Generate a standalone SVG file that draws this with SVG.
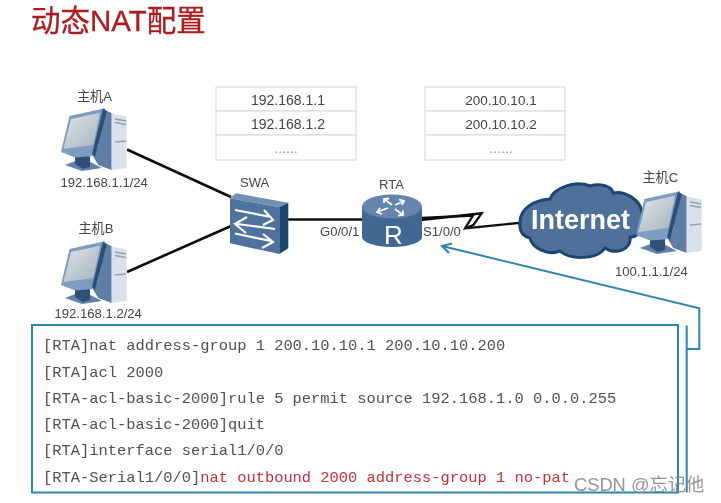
<svg xmlns="http://www.w3.org/2000/svg" width="721" height="503" viewBox="0 0 721 503">
<style>
text{font-family:"Liberation Sans","Noto Sans CJK SC",sans-serif;fill:#444}
.lbl{font-size:13.100px}
.cell{font-size:14px;text-anchor:middle}
.cell2{font-size:13.500px;text-anchor:middle}
.dots{font-size:14px;text-anchor:middle;fill:#999}
.code{font-family:"Liberation Mono","Noto Sans CJK SC",monospace;font-size:15.420px;fill:#505050}
.red{fill:#c4303c}
.tbl{fill:#fff;stroke:#dcdcdc;stroke-width:1.200}
.link{fill:none;stroke:#111;stroke-width:2.600}
.blue{fill:none;stroke:#2f86ad;stroke-width:2}
.wa{fill:none;stroke:#fff;stroke-width:2.200}
</style>
<defs>
<filter id="soft" x="-2%" y="-2%" width="104%" height="104%"><feGaussianBlur stdDeviation="0.500"/></filter>
<linearGradient id="scr" x1="0" y1="0" x2="1" y2="1"><stop offset="0" stop-color="#dfe5ea"/><stop offset="1" stop-color="#a6b2bc"/></linearGradient>
<g id="host">
<polygon points="76.700,40.700 81.700,43.300 81.700,100 68.300,95 63.300,86.700" fill="#5f7ea6"/>
<polygon points="81.700,43.300 96.700,46.700 96.700,98 81.700,100" fill="#d9e2ec"/>
<path d="M85,49L96,51M85,52.500L96,54.500M85,72L96,71" stroke="#8ea2b6" stroke-width="1.300" fill="none"/>
<polygon points="35,95 53,88 72,98 52,101" fill="#6282a8"/>
<polygon points="45,84 60,80 60,97 53,99 45,94" fill="#2f5078"/>
<polygon points="39.500,46 75,38.300 68.300,78 64,86 45,87.500 31,82" fill="#7c9cc2"/>
<polygon points="41,49 70,42.700 63.300,75 33.500,79" fill="url(#scr)"/>
<polygon points="73,38.500 77,41 65,87 62,84" fill="#2f5078"/>
</g>
</defs>
<rect width="721" height="503" fill="#fff"/>
<g filter="url(#soft)">
<g id="title"><text x="31" y="31" style="font-size:29.500px;fill:#ac1c20;stroke:#ac1c20;stroke-width:.3">动态NAT配置</text></g>

<g id="connectors">
<path class="link" d="M127,149.500L231,197"/>
<path class="link" d="M127,272L231,226"/>
<path class="link" d="M287,219.500H364"/>
<path d="M421,218L473,215.500L465,228.300L522,222.700" fill="none" stroke="#111" stroke-width="2.300"/>
<path d="M421,220L481.700,213.300L473.300,225L465,228.300" fill="none" stroke="#111" stroke-width="2.300"/>
<path class="blue" d="M686.700,349H699.300V308.300L442,246"/>
<path class="blue" d="M452,243.500L442,246L449,253"/>
</g>

<g id="table-private">
<rect class="tbl" x="216" y="87" width="140" height="24"/><rect class="tbl" x="216" y="111" width="140" height="24"/><rect class="tbl" x="216" y="135" width="140" height="25"/>
<text class="cell" x="288" y="104.500">192.168.1.1</text><text class="cell" x="288" y="129">192.168.1.2</text><text class="dots" x="286" y="153">......</text>
</g>
<g id="table-public">
<rect class="tbl" x="425" y="87" width="140" height="24"/><rect class="tbl" x="425" y="111" width="140" height="24"/><rect class="tbl" x="425" y="135" width="140" height="25"/>
<text class="cell2" x="501" y="104.500">200.10.10.1</text><text class="cell2" x="501" y="129">200.10.10.2</text><text class="dots" x="501" y="153">......</text>
</g>

<g id="host-a"><use href="#host" transform="translate(30,70)"/><text class="lbl" x="77" y="101">主机A</text><text class="lbl" x="60.500" y="186.500">192.168.1.1/24</text></g>
<g id="host-b"><use href="#host" transform="translate(30,203)"/><text class="lbl" x="78.500" y="233">主机B</text><text class="lbl" x="54.500" y="318">192.168.1.2/24</text></g>

<g id="swa">
<polygon points="230,198.300 236,193.300 288.300,202.700 279.300,207.300" fill="#7090b5"/>
<polygon points="230,198.300 279.300,207.300 279.300,254 230,243.300" fill="#4f739d"/>
<polygon points="279.300,207.300 288.300,202.700 288.300,248.300 279.300,254" fill="#1f4570"/>
<g class="wa">
<path d="M235,210L271,217M264,210L273,220L263,225"/>
<path d="M275,229L237,224M247,217L235,224L246,233"/>
<path d="M235,233.500L271,241M263,234L273,242L262,248"/>
</g>
<text class="lbl" x="240" y="187">SWA</text>
</g>

<g id="rta">
<path d="M362,206.500V237A30,10 0 0 0 422,237V206.500Z" fill="#3f6793"/>
<ellipse cx="392" cy="206.500" rx="30" ry="12" fill="#6585ac"/>
<g fill="none" stroke="#fff" stroke-width="1.800">
<path d="M392,205L384,199M384,203L384,199L389,198.500"/>
<path d="M395,205L404,201M399,199.500L404,201L402,205"/>
<path d="M388,208L377,212M380,208L377,212L382,214"/>
<path d="M395,209L403,215M403,210.500L403,215L398,215.500"/>
</g>
<text x="393.500" y="243.500" text-anchor="middle" style="font-size:26px;fill:#fff">R</text>
<text class="lbl" x="379" y="189">RTA</text>
<text class="lbl" x="320" y="236">G0/0/1</text>
<text class="lbl" x="423" y="235.500">S1/0/0</text>
</g>

<g id="internet">
<path d="M520,222C520,208 535,200 550,199C554,188 575,180 590,186C600,183 612,186 613,193C625,190 640,200 642,212C645,225 640,238 630,237C632,250 615,255 605,248C597,260 570,260 560,251C548,256 532,248 530,238C522,236 519,230 520,222Z" fill="#4f6f99" stroke="#1f4570" stroke-width="3"/>
<text x="531" y="229" style="font-size:27px;font-weight:bold;fill:#fff">Internet</text>
</g>

<g id="host-c"><use href="#host" transform="translate(605,153)"/><text class="lbl" x="642.500" y="182">主机C</text><text class="lbl" x="615" y="275.500">100.1.1.1/24</text></g>

<g id="config">
<rect x="32" y="325" width="646" height="167.500" fill="none" stroke="#2f86ad" stroke-width="2"/>
<path class="blue" d="M686.700,325.500V492.500"/>
<text class="code" x="43" y="350">[RTA]nat address-group 1 200.10.10.1 200.10.10.200</text>
<text class="code" x="43" y="376.500">[RTA]acl 2000</text>
<text class="code" x="43" y="402.500">[RTA-acl-basic-2000]rule 5 permit source 192.168.1.0 0.0.0.255</text>
<text class="code" x="43" y="428.500">[RTA-acl-basic-2000]quit</text>
<text class="code" x="43" y="455">[RTA]interface serial1/0/0</text>
<text class="code" x="43" y="481.500">[RTA-Serial1/0/0]<tspan class="red">nat outbound 2000 address-group 1 no-pat</tspan></text>
</g>
<g id="watermark"><text x="574" y="491" style="font-size:18.300px;fill:#8a8a8a;opacity:.9">CSDN @忘记他</text></g>
</g>
</svg>
